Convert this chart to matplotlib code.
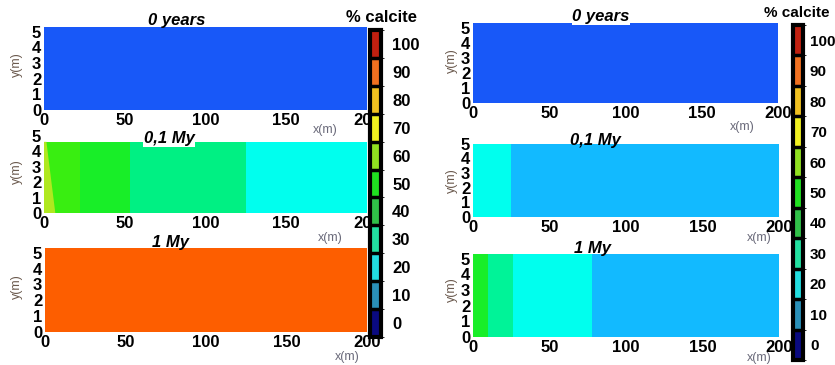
import matplotlib
matplotlib.use("Agg")
import matplotlib.pyplot as plt
from matplotlib.colors import ListedColormap, BoundaryNorm, LinearSegmentedColormap, Normalize
from matplotlib.cm import ScalarMappable

# --- data ---
times = ["0 years", "0,1 My", "1 My"]
levels = [0, 10, 20, 30, 40, 50, 60, 70, 80, 90, 100]

# left case: x boundaries of each zone (m) and % calcite in each zone
left_edges = [[0, 200], [0, 22, 53, 125, 200], [0, 200]]
left_calcite = [[5], [48, 42, 32, 22], [90]]
left_height = [5.3, 4.6, 5.3]
# small reaction front at the inlet, 0,1 My (left case)
front_x = [0, 1.5, 7, 0]
front_y = [4.6, 4.6, 0, 0]
front_calcite = 60

# right case
right_edges = [[0, 200], [0, 25, 200], [0, 10, 26, 78, 200]]
right_calcite = [[5], [22, 15], [42, 30, 22, 15]]
right_height = [5.3, 5.0, 5.3]

# colours
bar_colors = ['#0a0a80', '#2a8fb8', '#22dde0', '#22e0a0', '#30c048', '#20e020',
              '#90e020', '#f0f020', '#f0c020', '#f07020', '#c02010']
panel_cmap = LinearSegmentedColormap.from_list('panel', [
    (0.00, '#000080'), (0.05, '#1a5eff'), (0.15, '#12bbff'), (0.22, '#00ffee'),
    (0.32, '#00f080'), (0.42, '#18ee28'), (0.48, '#3aee10'), (0.60, '#b0e820'),
    (0.75, '#ffe000'), (0.90, '#ff6000'), (1.00, '#a00000')])
pnorm = Normalize(0, 100)

plt.rcParams['font.family'] = ['Liberation Sans', 'DejaVu Sans']
plt.rcParams['font.weight'] = 'bold'

W, H = 835, 365
fig = plt.figure(figsize=(W / 100, H / 100), dpi=100)


def box(x0, y0, x1, y1):
    return [x0 / W, 1 - y1 / H, (x1 - x0) / W, (y1 - y0) / H]


def panel(rect, edges, vals, h, ylim):
    ax = fig.add_axes(box(*rect))
    ax.pcolormesh(edges, [0, h], [vals], cmap=panel_cmap, norm=pnorm)
    ax.set_xlim(0, 200)
    ax.set_ylim(0, ylim)
    ax.set_xticks([0, 50, 100, 150, 200])
    ax.set_yticks([0, 1, 2, 3, 4, 5])
    ax.tick_params(length=0, labelsize=12, pad=2)
    for s in ax.spines.values():
        s.set_visible(False)
    return ax


left_rects = [(44, 27, 367, 110), (44, 131, 367, 213), (45, 248, 367, 332)]
left_ylim = [5.3, 5.3, 5.3]
right_rects = [(473, 23, 778, 103), (473, 143, 779, 217), (473, 254, 779, 337)]
right_ylim = [5.3, 5.05, 5.3]

axl = []
for i in range(3):
    axl.append(panel(left_rects[i], left_edges[i], left_calcite[i], left_height[i], left_ylim[i]))
axl[1].fill(front_x, front_y, color=panel_cmap(pnorm(front_calcite)), lw=0)

for i in range(3):
    panel(right_rects[i], right_edges[i], right_calcite[i], right_height[i], right_ylim[i])

# titles (only some have a white patch behind them)
title_pos = [(177, 20), (169, 139), (170, 243), (601, 17), (595, 140), (592, 249)]
white_box = [False, True, False, True, False, False]
for k, (x, y) in enumerate(title_pos):
    t = fig.text(x / W, 1 - y / H, times[k % 3], ha='center', va='center', fontsize=12,
                 style='italic', fontweight='bold')
    if white_box[k]:
        t.set_bbox(dict(facecolor='white', edgecolor='none', pad=0.5))

# axis labels
for x, y in [(17, 65), (17, 172), (17, 287), (452, 61), (452, 181), (452, 290)]:
    fig.text(x / W, 1 - y / H, 'y(m)', rotation=90, ha='center', va='center',
             fontsize=9, fontweight='normal', color='#6b5a4e')
for x, y in [(325, 130), (330, 238), (347, 357), (742, 127), (759, 238), (759, 358)]:
    fig.text(x / W, 1 - y / H, 'x(m)', ha='center', va='center',
             fontsize=9, fontweight='normal', color='#6a6a7a')

# colour bars
bar_cmap = ListedColormap(bar_colors)
bnorm = BoundaryNorm([l - 5 for l in levels] + [105], len(bar_colors))
for rect, tx, ty, pad, fs in [((370, 30, 381, 337), 382, 18, 8, 12),
                              ((793, 25, 803, 360), 797, 13, 5, 11)]:
    cax = fig.add_axes(box(*rect))
    cb = fig.colorbar(ScalarMappable(norm=bnorm, cmap=bar_cmap), cax=cax,
                      ticks=levels, drawedges=True)
    cb.dividers.set_color('black')
    cb.dividers.set_linewidth(2.5)
    cb.outline.set_linewidth(3)
    cax.tick_params(length=0, labelsize=fs, pad=pad)
    fig.text(tx / W, 1 - ty / H, '% calcite', ha='center', va='center', fontsize=fs)

fig.savefig('out.png', dpi=100)
